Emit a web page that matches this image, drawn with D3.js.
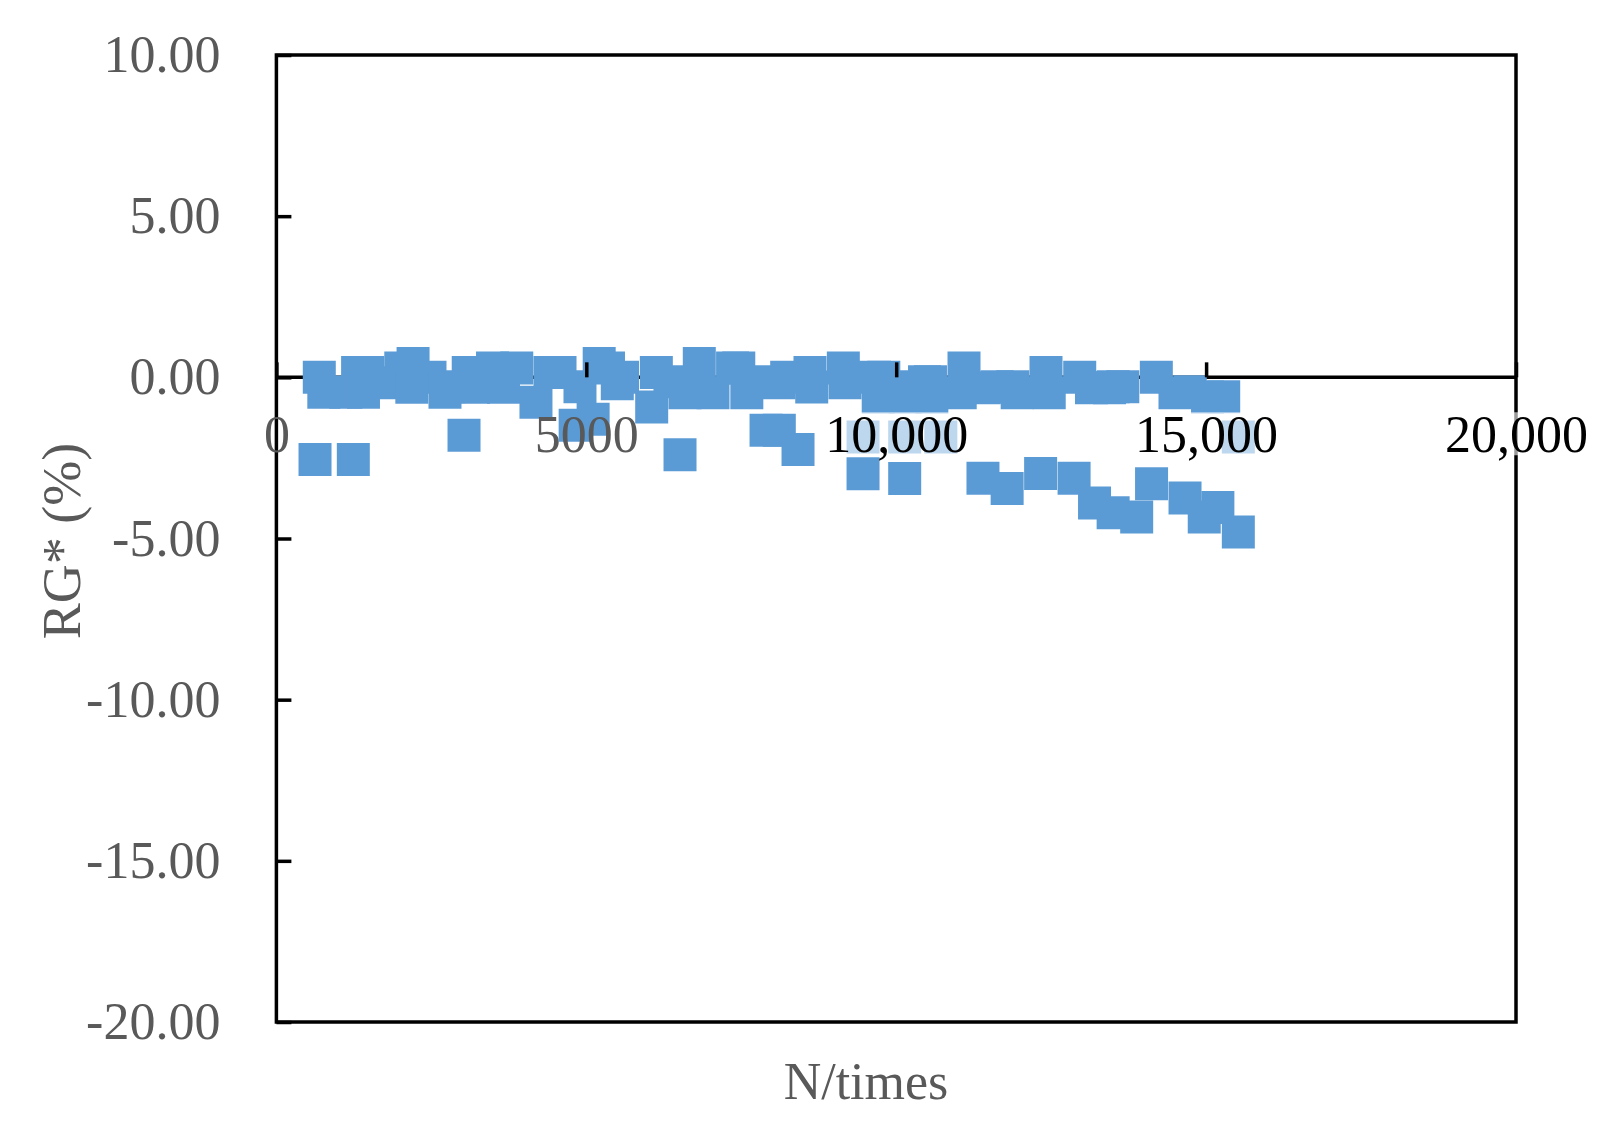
<!DOCTYPE html>
<html><head><meta charset="utf-8">
<script src="https://cdn.jsdelivr.net/npm/d3@7"></script>
<style>body{margin:0;background:#fff} svg{display:block}</style>
</head><body><svg id="c" width="1617" height="1130"></svg>
<script>
// ---- data ----
const xTickValues = [0, 5000, 10000, 15000, 20000];
const xTickLabels = ["0", "5000", "10,000", "15,000", "20,000"];
const yTickValues = [10, 5, 0, -5, -10, -15, -20];
const yTickLabels = ["10.00", "5.00", "0.00", "-5.00", "-10.00", "-15.00", "-20.00"];
const xTitle = "N/times";
const yTitle = "RG* (%)";

const seriesA_N  = [692,1310,1475,2007,2205,2478,2780,3095,3487,3878,4414,4576,4898,5208,5358,5584,6130,6350,6823,7360,7460,7880,8233,8609,9147,9650,9800,10142,10457,10553,11094,11627,11881,12417,12961,13501,13656,14197,14745,15284];
const seriesA_RG = [0.00,0.15,0.15,0.29,0.43,0.00,-0.29,0.15,0.29,0.29,0.15,0.15,-0.29,0.43,0.29,0.00,0.15,-0.14,0.43,0.29,0.29,-0.14,0.00,0.15,0.29,0.00,0.00,-0.29,-0.14,-0.14,0.29,-0.29,-0.29,0.15,0.00,-0.29,-0.29,0.00,-0.45,-0.60];

const seriesB_N  = [765,1120,1405,1900,2185,2720,3180,3664,4188,4820,5110,5500,6055,6592,7044,7590,8110,8637,9174,9710,10142,10575,11033,11420,11952,12469,13151,13442,14498,15023];
const seriesB_RG = [-0.46,-0.46,-0.46,-0.17,-0.31,-0.46,-0.31,-0.31,-0.77,-1.49,-1.30,-0.20,-0.92,-0.48,-0.48,-0.48,-0.17,-0.30,-0.17,-0.61,-0.61,-0.61,-0.48,-0.32,-0.48,-0.48,-0.32,-0.32,-0.48,-0.61];

const seriesC_N  = [623,1241,3027,6512,7900,8114,8416,9465,10137,11400,11790,12330,12870,13200,13500,13880,14120,14660,14970,15190,15520];
const seriesC_RG = [-2.55,-2.55,-1.80,-2.40,-1.64,-1.64,-2.24,-2.99,-3.14,-3.13,-3.45,-2.98,-3.13,-3.90,-4.20,-4.33,-3.30,-3.74,-4.33,-4.04,-4.80];

const seriesD_N  = [9465,10137,10720,15520];
const seriesD_RG = [-1.85,-1.85,-1.85,-1.85];

const markerColor = "#5B9BD5";

// ---- chart ----
const svg = d3.select("#c");
const L = 276.4, R = 1516, T = 55, B = 1022;
const x = d3.scaleLinear().domain([0, 20000]).range([L, R]);
const y = d3.scaleLinear().domain([-20, 10]).range([B, T]);
const font = "'Liberation Serif','Times New Roman',serif";
const grey = "#595959";

// x-axis line at y=0 (beneath markers)
svg.append("line").attr("x1", x(0)).attr("x2", x(20000))
  .attr("y1", y(0)).attr("y2", y(0)).attr("stroke", "#000").attr("stroke-width", 3.5);

// markers
const pts = [];
[[seriesA_N, seriesA_RG], [seriesB_N, seriesB_RG], [seriesC_N, seriesC_RG], [seriesD_N, seriesD_RG]]
  .forEach(([n, v]) => n.forEach((d, i) => pts.push({n: d, v: v[i]})));
const sym = d3.symbol().type(d3.symbolSquare).size(33 * 33);
svg.append("g").selectAll("path").data(pts).join("path")
  .attr("d", sym)
  .attr("transform", d => `translate(${x(d.n)},${y(d.v)})`)
  .attr("fill", markerColor);

// plot border
svg.append("rect").attr("x", L).attr("y", T).attr("width", R - L).attr("height", B - T)
  .attr("fill", "none").attr("stroke", "#000").attr("stroke-width", 3.5);

// y axis
const yAxis = d3.axisLeft(y).tickValues(yTickValues)
  .tickFormat((d, i) => yTickLabels[i]).tickSize(-15).tickPadding(56);
const gy = svg.append("g").attr("transform", `translate(${L},0)`).call(yAxis);
gy.select(".domain").remove();
gy.selectAll(".tick line").attr("stroke", "#000").attr("stroke-width", 3.5);
gy.selectAll(".tick text").attr("font-family", font).attr("font-size", 52).attr("fill", grey);

// x axis at y=0
const xAxis = d3.axisBottom(x).tickValues(xTickValues)
  .tickFormat((d, i) => xTickLabels[i]).tickSize(-15).tickPadding(38);
const gx = svg.append("g").attr("transform", `translate(0,${y(0)})`).call(xAxis);
gx.select(".domain").remove();
gx.selectAll(".tick line").attr("stroke", "#000").attr("stroke-width", 3.5);
gx.selectAll(".tick text").attr("font-family", font).attr("font-size", 52)
  .attr("fill", (d, i) => i < 2 ? grey : "#000");
gx.selectAll(".tick").each(function(d, i) {
  if (i < 2) return;
  const t = d3.select(this).select("text");
  const bb = t.node().getBBox();
  d3.select(this).insert("rect", "text")
    .attr("x", bb.x).attr("y", bb.y + 6).attr("width", bb.width).attr("height", bb.height - 14)
    .attr("fill", "#fff").attr("opacity", 0.6);
});

// titles
svg.append("text").attr("transform", "translate(62,541) rotate(-90)")
  .attr("text-anchor", "middle").attr("dominant-baseline", "central")
  .attr("font-family", font).attr("font-size", 54).attr("fill", grey).text(yTitle);
svg.append("text").attr("x", 866).attr("y", 1099).attr("text-anchor", "middle")
  .attr("font-family", font).attr("font-size", 52).attr("fill", grey).text(xTitle);
</script>
</body></html>
